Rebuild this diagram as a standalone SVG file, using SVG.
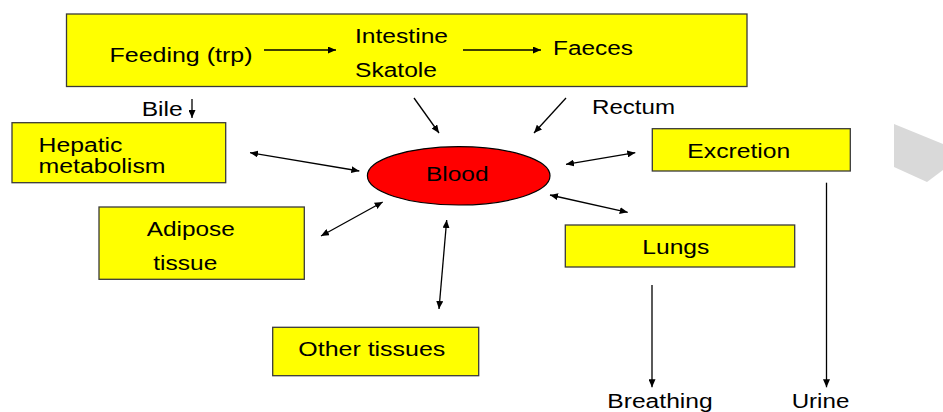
<svg xmlns="http://www.w3.org/2000/svg" width="943" height="412" viewBox="0 0 943 412">
<style>
.box{fill:#FFFF00;stroke:#3a3a3a;stroke-width:1.3}
.t{font-family:"Liberation Sans",Arial,sans-serif;font-size:20px;fill:#000}
.c{stroke:#000;stroke-width:1.3;fill:none}
.one{marker-end:url(#ah)}
.two{marker-start:url(#ah);marker-end:url(#ah)}
</style>
<defs>
<marker id="ah" viewBox="0 0 8 7" refX="8" refY="3.5" markerWidth="8" markerHeight="7" markerUnits="userSpaceOnUse" orient="auto-start-reverse">
<path d="M0,0 L8,3.5 L0,7 z" fill="#000"/>
</marker>
</defs>
<rect width="943" height="412" fill="#fff"/>
<polygon points="894,124 943,144 943,170 927,182 894,167" fill="#D9D9D9"/>

<g id="source">
<rect class="box" x="66.5" y="14" width="680.5" height="72.5"/>
<text class="t" x="109.5" y="62" textLength="143" lengthAdjust="spacingAndGlyphs">Feeding (trp)</text>
<text class="t" x="355" y="43" textLength="93" lengthAdjust="spacingAndGlyphs">Intestine</text>
<text class="t" x="355" y="77" textLength="82" lengthAdjust="spacingAndGlyphs">Skatole</text>
<text class="t" x="553" y="55" textLength="80" lengthAdjust="spacingAndGlyphs">Faeces</text>
</g>
<g id="hepatic">
<rect class="box" x="12" y="122.7" width="213.7" height="60"/>
<text class="t" x="38.5" y="151.5" textLength="84" lengthAdjust="spacingAndGlyphs">Hepatic</text>
<text class="t" x="38.5" y="173" textLength="127" lengthAdjust="spacingAndGlyphs">metabolism</text>
</g>
<g id="blood">
<ellipse cx="458.7" cy="175.8" rx="91.3" ry="29.2" fill="#FF0000" stroke="#000" stroke-width="1.2"/>
<text class="t" x="426" y="181" textLength="62.5" lengthAdjust="spacingAndGlyphs">Blood</text>
</g>
<g id="adipose">
<rect class="box" x="99" y="207" width="205.3" height="72.3"/>
<text class="t" x="146.7" y="236" textLength="88" lengthAdjust="spacingAndGlyphs">Adipose</text>
<text class="t" x="153.3" y="269.5" textLength="64" lengthAdjust="spacingAndGlyphs">tissue</text>
</g>
<g id="other">
<rect class="box" x="272.7" y="327.3" width="206" height="48.4"/>
<text class="t" x="298.3" y="356" textLength="147" lengthAdjust="spacingAndGlyphs">Other tissues</text>
</g>
<g id="excretion">
<rect class="box" x="652.3" y="128.7" width="198" height="42.3"/>
<text class="t" x="687.3" y="157.5" textLength="103" lengthAdjust="spacingAndGlyphs">Excretion</text>
</g>
<g id="lungs">
<rect class="box" x="565.3" y="225" width="229.4" height="42"/>
<text class="t" x="642.3" y="254" textLength="67" lengthAdjust="spacingAndGlyphs">Lungs</text>
</g>
<g id="labels">
<text class="t" x="141.7" y="116.3" textLength="41" lengthAdjust="spacingAndGlyphs">Bile</text>
<text class="t" x="592" y="114" textLength="83" lengthAdjust="spacingAndGlyphs">Rectum</text>
<text class="t" x="607.3" y="408" textLength="105.4" lengthAdjust="spacingAndGlyphs">Breathing</text>
<text class="t" x="791.7" y="408" textLength="57.6" lengthAdjust="spacingAndGlyphs">Urine</text>
</g>
<g id="connectors">
<line class="c one" x1="264" y1="50" x2="336" y2="50"/>
<line class="c one" x1="463" y1="50" x2="541" y2="50"/>
<line class="c one" x1="192" y1="99" x2="192" y2="118"/>
<line class="c one" x1="414" y1="98" x2="439" y2="133"/>
<line class="c one" x1="566" y1="98" x2="534" y2="133"/>
<line class="c two" x1="250" y1="152.7" x2="359.3" y2="171"/>
<line class="c two" x1="321" y1="236" x2="382.7" y2="202"/>
<line class="c two" x1="439" y1="309" x2="446.7" y2="220"/>
<line class="c two" x1="566" y1="164.3" x2="635.3" y2="152.7"/>
<line class="c two" x1="550" y1="195" x2="627.7" y2="212.3"/>
<line class="c one" x1="652" y1="285" x2="652" y2="387.3"/>
<line class="c one" x1="826.5" y1="182.7" x2="826.5" y2="387.3"/>
</g>
</svg>
